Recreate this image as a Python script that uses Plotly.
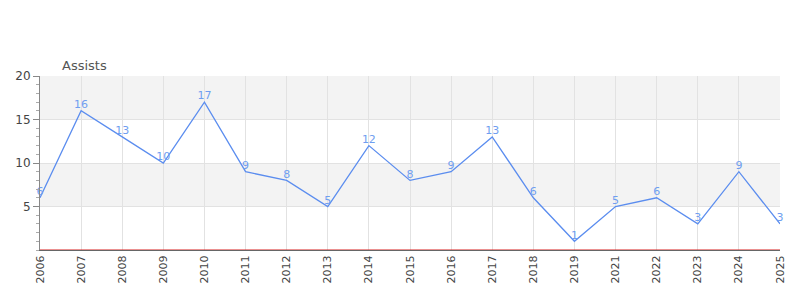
import plotly.graph_objects as go

years = ["2006", "2007", "2008", "2009", "2010", "2011", "2012", "2013", "2014", "2015",
         "2016", "2017", "2018", "2019", "2021", "2022", "2023", "2024", "2025"]
assists = [6, 16, 13, 10, 17, 9, 8, 5, 12, 8, 9, 13, 6, 1, 5, 6, 3, 9, 3]
bands = [(5, 10), (15, 20)]

fig = go.Figure()
for y0, y1 in bands:
    fig.add_hrect(y0=y0, y1=y1, fillcolor="#f3f3f3", line_width=0, layer="below")

fig.add_trace(go.Scatter(
    x=years, y=assists, mode="lines+text",
    text=[str(v) for v in assists], textposition="top center",
    textfont=dict(color="#6f9ef0", size=11, family="DejaVu Sans"),
    line=dict(color="#5b8def", width=1.3),
    cliponaxis=False,
))

fig.add_shape(type="line", xref="paper", yref="y", x0=0, x1=1, y0=0, y1=0,
              line=dict(color="#d62020", width=1))

fig.update_layout(
    width=800, height=300,
    margin=dict(l=40, r=20, t=76, b=50),
    paper_bgcolor="white", plot_bgcolor="white",
    showlegend=False,
    font=dict(family="DejaVu Sans", size=11, color="#444"),
    annotations=[dict(text="Assists", xref="paper", yref="paper", x=0.027, y=1.0,
                      xanchor="left", yanchor="bottom", showarrow=False,
                      font=dict(size=13, color="#555"), yshift=1)],
)
fig.update_xaxes(
    type="category", range=[0, len(years) - 1],
    showgrid=True, gridcolor="#e2e2e2", gridwidth=1,
    tickangle=-90, ticks="", tickfont=dict(size=11, color="#444"),
    showline=True, linecolor="#666", linewidth=1,
)
fig.update_yaxes(
    range=[0, 20], tickvals=[5, 10, 15, 20],
    showgrid=True, gridcolor="#e2e2e2", zeroline=False,
    ticks="outside", ticklen=6, tickcolor="#888",
    minor=dict(dtick=1, ticks="outside", ticklen=3, tickcolor="#aaa", showgrid=False),
    showline=True, linecolor="#888", linewidth=1,
    tickfont=dict(size=12, color="#444"),
)

fig.write_html("out.html")
